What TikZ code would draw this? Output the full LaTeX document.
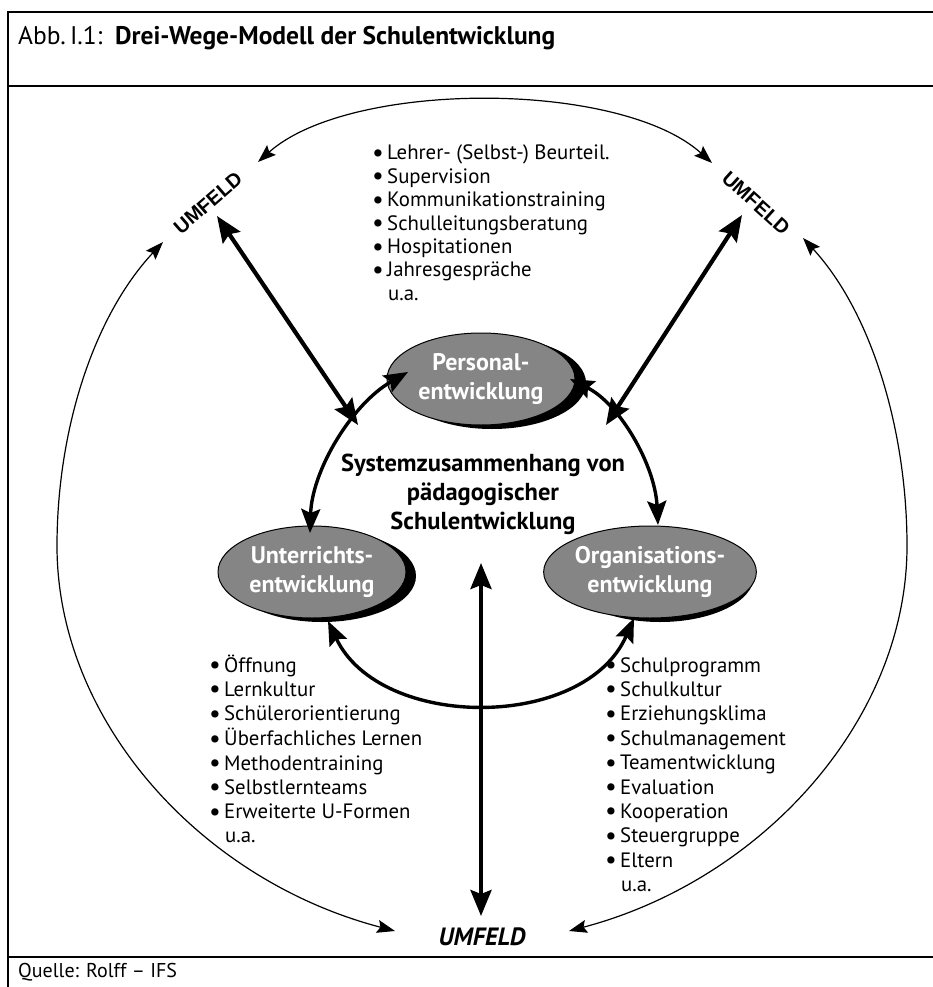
\documentclass[tikz,border=0pt]{standalone}
\usepackage{fontspec}
\setmainfont{PT Sans}
\newfontfamily\umfont{Liberation Sans}
\usetikzlibrary{arrows.meta,shapes.geometric}
\newcommand{\bul}{\makebox[15pt][l]{\fontsize{26}{0}\selectfont\raisebox{-1.5pt}{•}}}
\tikzset{
  frame/.style={line width=1.6pt, draw=black},
  thinarrow/.style={line width=1.2pt, {Stealth[length=18pt,width=13pt,inset=3pt]}-{Stealth[length=18pt,width=13pt,inset=3pt]}},
  thickarrow/.style={line width=4.2pt, {Stealth[length=26pt,width=21pt,inset=4pt]}-{Stealth[length=26pt,width=21pt,inset=4pt]}},
  innerarrow/.style={line width=3.4pt, {Stealth[length=24pt,width=19pt,inset=4pt]}-{Stealth[length=24pt,width=19pt,inset=4pt]}},
  ell/.style={ellipse, draw=black, line width=1pt, fill=black!48, minimum width=188pt, minimum height=92pt, inner sep=0pt, text=white, font=\bfseries\fontsize{24}{29}\selectfont, align=center},
  ellshadow/.style={ellipse, fill=black, minimum width=188pt, minimum height=92pt, inner sep=0pt},
  listtext/.style={inner sep=0pt, anchor=base west, font=\fontsize{20.8}{24.4}\selectfont},
  umtop/.style={inner sep=0pt, font=\umfont\bfseries\fontsize{20}{24}\selectfont},
}
\begin{document}
\begin{tikzpicture}[x=1pt,y=-1pt]
\useasboundingbox (0,0) rectangle (933,987);
% frame
\draw[frame] (8,987) -- (8,12) -- (933,12);
\draw[frame] (8,86) -- (933,86);
\draw[frame] (8,957) -- (933,957);
\node[anchor=west, inner sep=0pt] (title) at (18,38) {\fontsize{25.5}{29}\selectfont Abb.\,I.1:\enspace\bfseries Drei-Wege-Modell der Schulentwicklung};
\node[anchor=west, inner sep=0pt] (quelle) at (18,972) {\fontsize{20}{24}\selectfont Quelle: Rolff -- IFS};

% UMFELD labels
\node[umtop, rotate=41] (umtl) at (208,203) {UMFELD};
\node[umtop, rotate=-42] (umtr) at (756,203) {UMFELD};
\node[inner sep=0pt, font=\bfseries\itshape\fontsize{25}{29}\selectfont] (umb) at (482,937) {UMFELD};

% ellipses
\node[ellshadow] (psh) at (492,383) {};
\node[ellshadow] (ush) at (322,576) {};
\node[ellshadow] (osh) at (660,576) {};
\node[ell] (pe) at (481,379) {Personal-\\entwicklung};
\node[ell] (ue) at (312,572) {Unterrichts-\\entwicklung};
\node[ell] (oe) at (650,572) {Organisations-\\entwicklung};

% centre text
\node[inner sep=0pt, align=center, font=\bfseries\fontsize{24.5}{29}\selectfont] (sys) at (483,494) {Systemzusammenhang von\\pädagogischer\\Schulentwicklung};

% lists
\node[listtext, font=\fontsize{20.8}{23.4}\selectfont] (plist) at (372,160) {\begin{tabular}[t]{@{}l@{}l@{}}
\bul & Lehrer- (Selbst-) Beurteil.\\ \bul & Supervision\\ \bul & Kommunikationstraining\\ \bul & Schulleitungsberatung\\ \bul & Hospitationen\\ \bul & Jahresgespräche\end{tabular}};
\node[listtext] (pua) at (388,300.4) {u.a.};
\node[listtext] (ulist) at (209,672) {\begin{tabular}[t]{@{}l@{}l@{}}
\bul & Öffnung\\ \bul & Lernkultur\\ \bul & Schülerorientierung\\ \bul & Überfachliches Lernen\\ \bul & Methodentraining\\ \bul & Selbstlernteams\\ \bul & Erweiterte U-Formen\end{tabular}};
\node[listtext] (uua) at (225,842.8) {u.a.};
\node[listtext] (olist) at (605,672) {\begin{tabular}[t]{@{}l@{}l@{}}
\bul & Schulprogramm\\ \bul & Schulkultur\\ \bul & Erziehungsklima\\ \bul & Schulmanagement\\ \bul & Teamentwicklung\\ \bul & Evaluation\\ \bul & Kooperation\\ \bul & Steuergruppe\\ \bul & Eltern\end{tabular}};
\node[listtext] (oua) at (621,891.6) {u.a.};

% connector end points
\coordinate (tA) at (258,162);
\coordinate (tB) at (712,163);
\coordinate (lA) at (163,242);
\coordinate (lM) at (57,546);
\coordinate (lB) at (395,931);
\coordinate (rA) at (803,238);
\coordinate (rM) at (907,546);
\coordinate (rB) at (569,931);
\coordinate (k1a) at (217,216);
\coordinate (k1b) at (358,425);
\coordinate (k2a) at (742,215);
\coordinate (k2b) at (606,425);
\coordinate (vA) at (481,563);
\coordinate (vB) at (481,916);
\coordinate (iL1) at (310,533);
\coordinate (iL2) at (408,372);
\coordinate (iR1) at (570,379);
\coordinate (iR2) at (658,525);
\coordinate (iB1) at (328,621);
\coordinate (iB2) at (634,618);

% outer thin arcs
\draw[thinarrow] (tA) .. controls (350,80) and (620,80) .. (tB);
\draw[thinarrow] (lA) .. controls (93,317) and (57,431) .. (lM) .. controls (57,720) and (200,880) .. (lB);
\draw[thinarrow] (rA) .. controls (872,313) and (907,431) .. (rM) .. controls (907,720) and (762,880) .. (rB);

% thick arrows
\draw[thickarrow] (k1a) -- (k1b);
\draw[thickarrow] (k2a) -- (k2b);
\draw[thickarrow] (vA) -- (vB);

% inner arcs
\draw[innerarrow] (iL1) .. controls (312,470) and (352,404) .. (iL2);
\draw[innerarrow] (iR1) .. controls (620,404) and (655,465) .. (iR2);
\draw[innerarrow] (iB1) .. controls (380,731) and (585,731) .. (iB2);
\end{tikzpicture}
\end{document}
